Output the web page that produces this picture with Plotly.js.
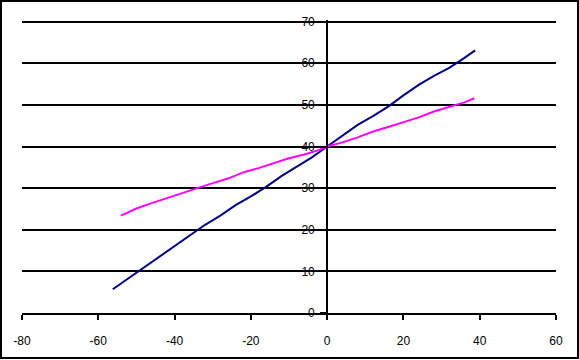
<!DOCTYPE html>
<html>
<head>
<meta charset="utf-8">
<script src="https://cdn.plot.ly/plotly-3.0.1.min.js"></script>
<style>html,body{margin:0;padding:0;background:#fff;}#chart{width:579px;height:360px;}</style>
</head>
<body>
<div id="chart"></div>
<script>
// Series 1 (navy)
const blueX = [-56.2, -52, -48, -44, -40, -36, -32, -28, -24, -20, -16, -12, -8, -4, 0, 4, 8, 12, 16, 20, 24, 28, 32, 36, 38.8];
const blueY = [5.7, 8.4, 11.0, 13.5, 16.0, 18.5, 21.2, 23.4, 25.9, 28.0, 30.3, 32.9, 35.2, 37.4, 40.0, 42.5, 45.2, 47.3, 49.6, 52.3, 54.8, 57.0, 58.9, 61.3, 63.1];
// Series 2 (magenta)
const pinkX = [-54.1, -50, -46, -42, -38, -34, -30, -26, -22, -18, -14, -10, -6, -2, 0, 4, 8, 12, 16, 20, 24, 28, 32, 36, 38.6];
const pinkY = [23.4, 25.1, 26.4, 27.6, 28.9, 30.0, 31.2, 32.3, 33.8, 34.8, 36.0, 37.2, 38.1, 39.2, 40.0, 41.0, 42.2, 43.6, 44.7, 45.8, 47.0, 48.4, 49.5, 50.6, 51.6];
const xTicks = [-80, -60, -40, -20, 0, 20, 40, 60];
const yTicks = [0, 10, 20, 30, 40, 50, 60, 70];

const W = 579, H = 360;
const m = {l: 22, r: 23, t: 20, b: 47};
const pw = W - m.l - m.r, ph = H - m.t - m.b;

const traces = [
  {x: blueX, y: blueY, type: 'scatter', mode: 'lines', line: {color: '#000080', width: 2}, showlegend: false, hoverinfo: 'skip'},
  {x: pinkX, y: pinkY, type: 'scatter', mode: 'lines', line: {color: '#FF00FF', width: 2}, showlegend: false, hoverinfo: 'skip'}
];

const layout = {
  width: W, height: H,
  margin: m,
  paper_bgcolor: '#fff', plot_bgcolor: '#fff',
  font: {family: 'Liberation Sans, Arial, sans-serif', size: 12, color: '#000'},
  xaxis: {
    range: [-80, 60], tickvals: xTicks, ticktext: xTicks.map(String),
    showgrid: false, zeroline: false, showline: true, linecolor: '#000', linewidth: 2,
    ticks: 'outside', ticklen: 5, tickwidth: 2, tickcolor: '#000',
    ticklabelstandoff: 11,
    fixedrange: true
  },
  yaxis: {
    range: [0, 70.4], tickvals: yTicks, ticktext: yTicks.map(String),
    anchor: 'free', position: 80 / 140,
    showgrid: true, gridcolor: '#000', gridwidth: 2,
    zeroline: false, showline: true, linecolor: '#000', linewidth: 2,
    ticks: 'outside', ticklen: 6, tickwidth: 2, tickcolor: '#000',
    ticklabelstandoff: 3,
    fixedrange: true
  },
  shapes: [{
    type: 'rect', xref: 'paper', yref: 'paper',
    x0: (1 - m.l) / pw, x1: (578 - m.l) / pw,
    y0: -(358 - (H - m.b)) / ph, y1: 1 + (m.t - 1) / ph,
    line: {color: '#000', width: 2}, fillcolor: 'rgba(0,0,0,0)', layer: 'above'
  }]
};

Plotly.newPlot('chart', traces, layout, {staticPlot: true});
</script>
</body>
</html>
